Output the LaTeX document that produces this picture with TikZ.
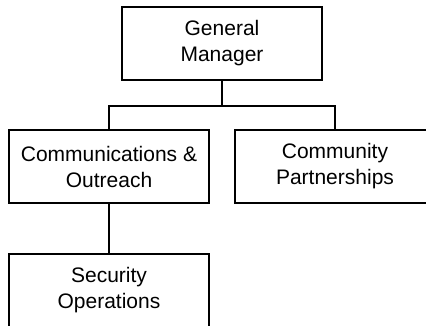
\documentclass[tikz,border=0pt]{standalone}
\usepackage{fontspec}
\setmainfont{Liberation Sans}
\begin{document}
\begin{tikzpicture}[x=1pt,y=1pt,line width=1.2pt,
   unit/.style={draw,minimum width=200pt,minimum height=73pt,align=center,
      inner sep=0pt,font=\fontsize{21}{26}\selectfont}]
   \useasboundingbox (0,0) rectangle (426,-326);
   \clip (0,0) rectangle (426,-326);
   \node[unit] (gm) at (222,-43.5) {General\\Manager};
   \node[unit] (co) at (109,-166.5) {Communications \&\\Outreach};
   \node[unit] (cp) at (335,-166.5) {Community\\Partnerships};
   \node[unit] (so) at (109,-290.5) {Security\\Operations};
   \coordinate (split) at (222,-106);

   \draw (gm) -- (split);
   \draw (co) |- (split) -| (cp);
   \draw (co) -- (so);
\end{tikzpicture}
\end{document}
